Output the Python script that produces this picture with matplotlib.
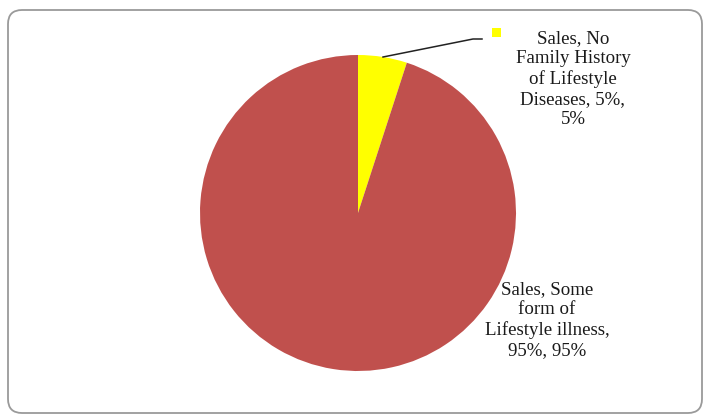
import matplotlib
matplotlib.use("Agg")
import matplotlib.pyplot as plt
from matplotlib.patches import FancyBboxPatch, Rectangle

series_name = "Sales"
categories = ["No\nFamily History\nof Lifestyle\nDiseases", "Some\nform of\nLifestyle illness"]
values = [5, 95]
colors = ["#FFFF00", "#C0504D"]

W, H = 708, 417
fig = plt.figure(figsize=(W / 100, H / 100), dpi=100)
ax = fig.add_axes([0, 0, 1, 1])

def Y(y):
    return H - y

# rounded frame
frame = FancyBboxPatch((8, Y(413)), 694, 403, boxstyle="round,pad=0,rounding_size=14",
                       linewidth=1.3, edgecolor="#9a9a9a", facecolor="white", zorder=0)
ax.add_patch(frame)

ax.pie(values, colors=colors, startangle=90, counterclock=False,
       center=(358, Y(213)), radius=158, frame=True,
       wedgeprops=dict(linewidth=0))
ax.set_xlim(0, W)
ax.set_ylim(0, H)
ax.axis("off")

font = dict(family="Liberation Serif", fontsize=13.6, color="#1a1a1a",
            ha="center", va="center", linespacing=1.22)

lbl0 = f"{series_name}, {categories[0]}, {values[0]}%,\n{values[0]}%"
lbl1 = f"{series_name}, {categories[1]},\n{values[1]}%, {values[1]}%"
ax.text(573, Y(79), lbl0, **font)
ax.text(547, Y(320), lbl1, **font)

# leader line
ax.plot([383, 473, 482], [Y(57), Y(39), Y(39)], color="#222222", lw=1.1)
ax.add_patch(Rectangle((492, Y(37)), 9, 9, facecolor=colors[0], edgecolor="none"))

fig.savefig("out.png", dpi=100)
